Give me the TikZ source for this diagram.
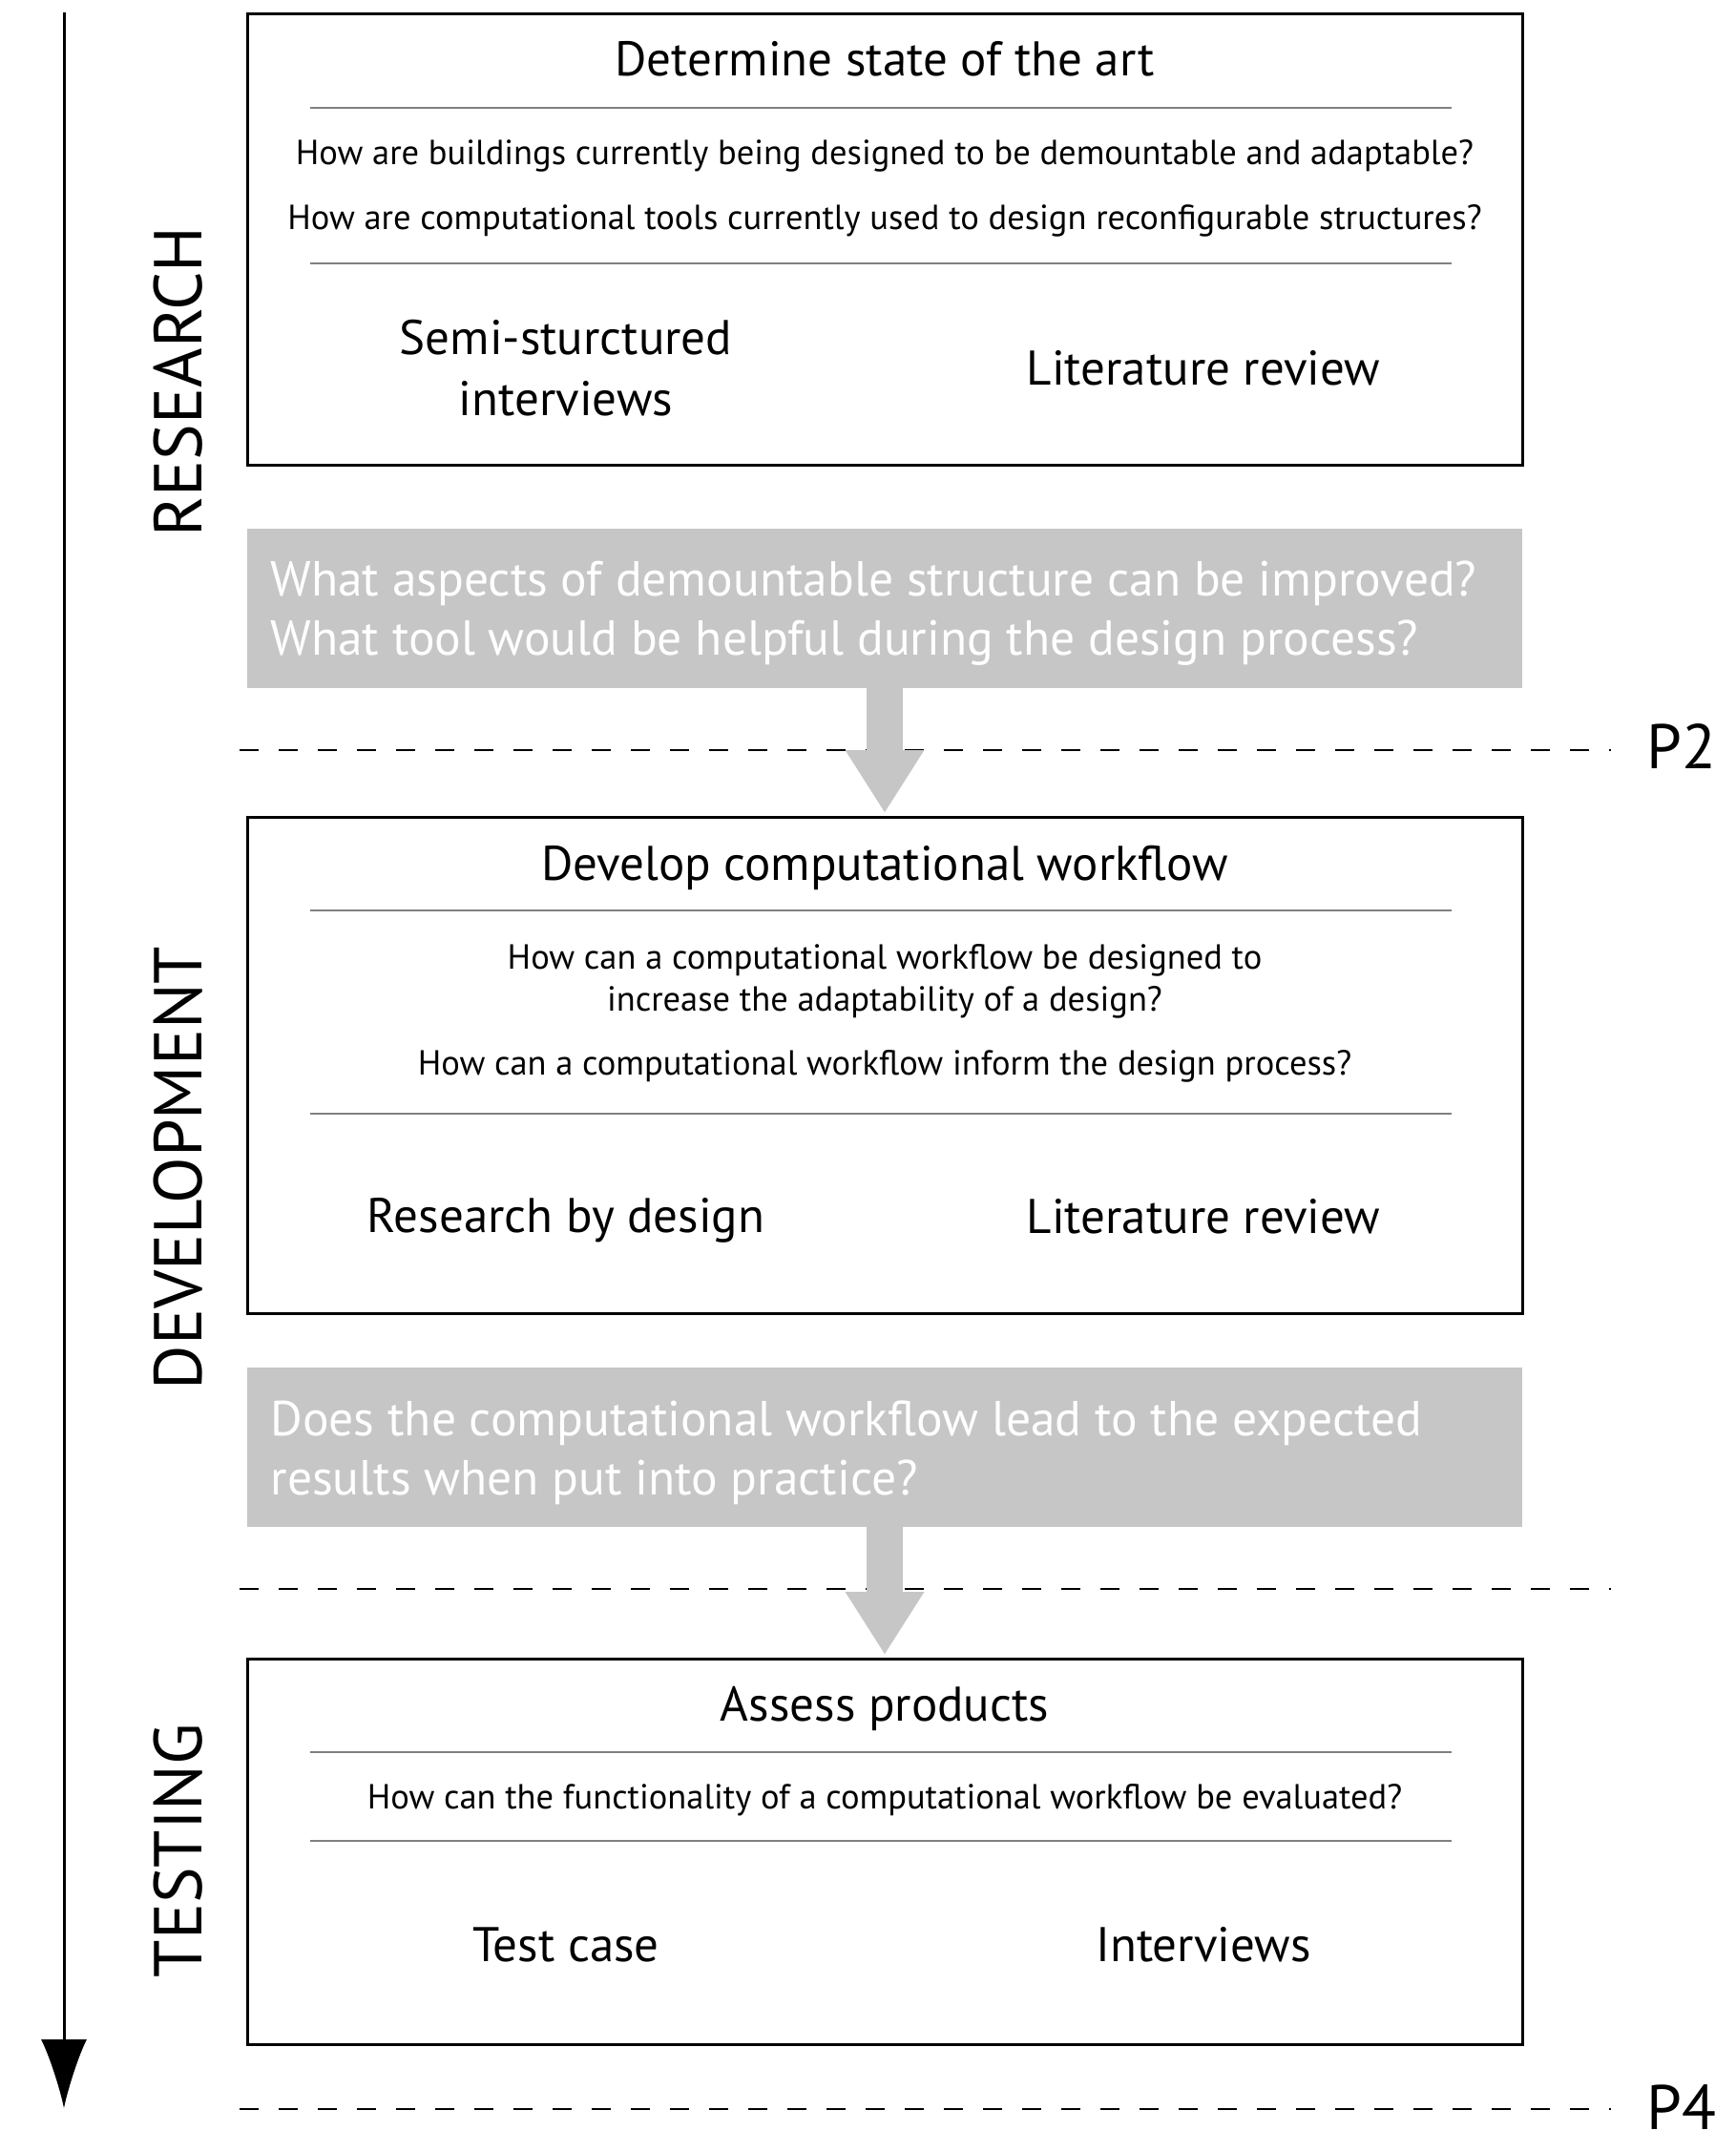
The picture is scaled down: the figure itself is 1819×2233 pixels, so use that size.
\documentclass[tikz,border=0pt]{standalone}
\usepackage{fontspec}
\setmainfont{PT Sans}
\usetikzlibrary{arrows.meta}
\definecolor{qgray}{HTML}{C6C6C6}
\definecolor{rulegray}{HTML}{808080}
\begin{document}
\begin{tikzpicture}[x=1pt,y=-1pt,
  stagebox/.style={draw=black, line width=3pt, inner sep=0pt, outer sep=0pt, minimum width=1336pt},
  qbox/.style={fill=qgray, inner sep=0pt, outer sep=0pt, minimum width=1336pt},
  titletxt/.style={font=\fontsize{51}{60}\selectfont, anchor=center},
  qtxt/.style={font=\fontsize{36.5}{46}\selectfont, align=center, anchor=center},
  methtxt/.style={font=\fontsize{51}{64}\selectfont, align=center, anchor=center},
  greytxt/.style={font=\fontsize{51.5}{62}\selectfont, text=white, align=left, anchor=west},
  phase/.style={font=\fontsize{71}{80}\selectfont, rotate=90, anchor=center},
  milestone/.style={font=\fontsize{66}{70}\selectfont, anchor=west},
  divider/.style={rulegray, line width=1.5pt},
  gate/.style={black, line width=2pt, dash pattern=on 20pt off 21pt},
  flow/.style={qgray, line width=38pt, -{Triangle[width=78pt,length=66pt]}, shorten >=4pt}
]
\useasboundingbox (0,0) rectangle (1819,2233);

% time axis
\coordinate (axtop) at (67,13);
\coordinate (axbot) at (67,2209);
\draw[line width=3pt, -{Latex[width=48pt,length=72pt]}] (axtop) -- (axbot);

% phase labels
\node[phase] (research) at (187,400) {RESEARCH};
\node[phase] (development) at (187,1224) {DEVELOPMENT};
\node[phase] (testing) at (187,1939) {TESTING};

% milestone lines
\draw[gate] (251,786) -- (1688,786);
\draw[gate] (251,1665) -- (1688,1665);
\draw[gate] (251,2210) -- (1688,2210);
\node[milestone] (p2) at (1722,782) {P2};
\node[milestone] (p4) at (1722,2208) {P4};

% stage 1
\node[stagebox, minimum height=473pt] (s1) at (927,250.5) {};
\node[titletxt] (s1t) at (927,62) {Determine state of the art};
\draw[divider] (325,113) -- (1521,113);
\node[qtxt] (s1q1) at (927,163) {How are buildings currently being designed to be demountable and adaptable?};
\node[qtxt] (s1q2) at (927,231) {How are computational tools currently used to design reconfigurable structures?};
\draw[divider] (325,276) -- (1521,276);
\node[methtxt] (s1m1) at (593,386) {Semi-sturctured\\interviews};
\node[methtxt] (s1m2) at (1261,386) {Literature review};

% question 1
\node[qbox, minimum height=167pt] (g1) at (927,637.5) {};
\node[greytxt] (g1t) at (280,643) {What aspects of demountable structure can be improved?\\What tool would be helpful during the design process?};

% stage 2
\node[stagebox, minimum height=520pt] (s2) at (927,1116) {};
\node[titletxt] (s2t) at (927,909) {Develop computational workflow};
\draw[divider] (325,954) -- (1521,954);
\node[qtxt, font=\fontsize{36.5}{44}\selectfont] (s2q1) at (927,1028) {How can a computational workflow be designed to\\increase the adaptability of a design?};
\node[qtxt] (s2q2) at (927,1117) {How can a computational workflow inform the design process?};
\draw[divider] (325,1167) -- (1521,1167);
\node[methtxt] (s2m1) at (593,1279) {Research by design};
\node[methtxt] (s2m2) at (1261,1275) {Literature review};

% question 2
\node[qbox, minimum height=167pt] (g2) at (927,1516) {};
\node[greytxt] (g2t) at (280,1522) {Does the computational workflow lead to the expected\\results when put into practice?};

% stage 3
\node[stagebox, minimum height=404pt] (s3) at (927,1940) {};
\node[titletxt] (s3t) at (927,1790) {Assess products};
\draw[divider] (325,1836) -- (1521,1836);
\node[qtxt] (s3q1) at (927,1886) {How can the functionality of a computational workflow be evaluated?};
\draw[divider] (325,1929) -- (1521,1929);
\node[methtxt] (s3m1) at (593,2038) {Test case};
\node[methtxt] (s3m2) at (1261,2038) {Interviews};

% flow between stages
\draw[flow] (g1.south) -- (s2.north);
\draw[flow] (g2.south) -- (s3.north);
\end{tikzpicture}
\end{document}
